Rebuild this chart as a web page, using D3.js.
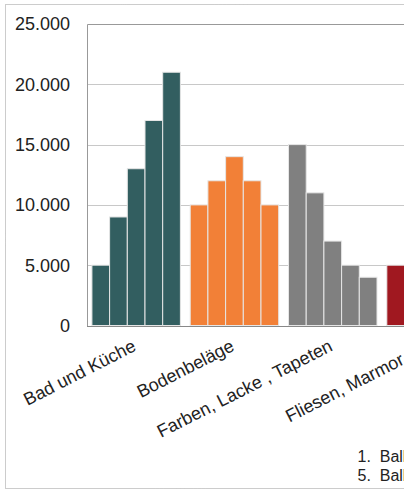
<!DOCTYPE html>
<html>
<head>
<meta charset="utf-8">
<title>Balken</title>
<script src="https://cdn.jsdelivr.net/npm/d3@7/dist/d3.min.js"></script>
<style>
  html, body { margin: 0; padding: 0; background: #fff; }
  text { font-family: "Liberation Sans", Arial, sans-serif; fill: #222; white-space: pre; }
</style>
</head>
<body>
<svg id="svg"></svg>
<script>
// categories and the five series (one value per category)
// (the last label runs past the right edge in the original; trailing spaces keep its place)
var categories = ["Bad und Küche", "Bodenbeläge", "Farben, Lacke , Tapeten", "Fliesen, Marmor      "];
var series = ["1. Balken", "2. Balken", "3. Balken", "4. Balken", "5. Balken"];
var values = [
  [5000, 9000, 13000, 17000, 21000],
  [10000, 12000, 14000, 12000, 10000],
  [15000, 11000, 7000, 5000, 4000],
  [5000, 6000, 7000, 8000, 9000]
];
var categoryColors = ["#325e60", "#f28037", "#808080", "#a01820"];
var yTicks = [0, 5000, 10000, 15000, 20000, 25000];
var legendItems = ["1.  Balken", "5.  Balken"];

var WIDTH = 404, HEIGHT = 491;
var LEFT = 87, TOP = 24, BOTTOM = 325.5;

var svg = d3.select('#svg').attr("width", WIDTH).attr("height", HEIGHT);

// outer dotted chart border
svg.append("rect")
   .attr("x", 5.5).attr("y", 4.5)
   .attr("width", WIDTH + 20).attr("height", 484)
   .attr("fill", "none").attr("stroke", "#999")
   .attr("stroke-dasharray", "1,1");

var de = d3.formatLocale({decimal: ",", thousands: ".", grouping: [3], currency: ["", " €"]});
var fmt = de.format(",d");

var y = d3.scaleLinear().domain([0, 25000]).range([BOTTOM, TOP]);
var x0 = d3.scaleBand().domain(categories)
           .range([LEFT, LEFT + 4 * 98.3])
           .paddingInner(0.1).paddingOuter(0.05);
var x1 = d3.scaleBand().domain(series).range([0, x0.bandwidth()]);

// gridlines
svg.selectAll("line.grid")
   .data(yTicks.filter(function(d){ return d > 0 && d < 25000; }))
   .enter().append("line")
   .attr("x1", LEFT).attr("x2", WIDTH)
   .attr("y1", function(d){ return Math.round(y(d)) + 0.5; })
   .attr("y2", function(d){ return Math.round(y(d)) + 0.5; })
   .attr("stroke", "#c8c8c8").attr("stroke-width", 1);

// plot frame: top and left, plus the zero line
svg.append("line").attr("x1", LEFT + 0.5).attr("x2", WIDTH)
   .attr("y1", Math.round(y(25000)) + 0.5).attr("y2", Math.round(y(25000)) + 0.5)
   .attr("stroke", "#999");
svg.append("line").attr("x1", LEFT + 0.5).attr("x2", LEFT + 0.5)
   .attr("y1", Math.round(y(25000)) + 0.5).attr("y2", Math.round(y(0)) + 0.5)
   .attr("stroke", "#999");
svg.append("line").attr("x1", LEFT).attr("x2", WIDTH)
   .attr("y1", Math.round(y(0)) + 0.5).attr("y2", Math.round(y(0)) + 0.5)
   .attr("stroke", "#888");

// y tick labels
svg.selectAll("text.ytick")
   .data(yTicks).enter().append("text")
   .attr("x", 70).attr("y", function(d){ return y(d); })
   .attr("dy", "0.35em")
   .attr("text-anchor", "end")
   .attr("font-size", "18px")
   .text(function(d){ return fmt(d); });

// bars
var groups = svg.selectAll("g.cat")
   .data(categories).enter().append("g")
   .attr("transform", function(d){ return "translate(" + x0(d) + ",0)"; });

groups.selectAll("rect")
   .data(function(d, i){
       return values[i].map(function(v, j){ return {s: series[j], v: v, c: categoryColors[i]}; });
   })
   .enter().append("rect")
   .attr("x", function(d){ return x1(d.s); })
   .attr("y", function(d){ return y(d.v); })
   .attr("width", x1.bandwidth())
   .attr("height", function(d){ return y(0) - y(d.v); })
   .attr("fill", function(d){ return d.c; })
   .attr("stroke", "#e6e6e6").attr("stroke-width", 1);

// category labels, rotated
svg.selectAll("text.cat")
   .data(categories).enter().append("text")
   .attr("transform", function(d){
       return "translate(" + (x0(d) + x0.bandwidth() / 2 + 1) + ",350) rotate(-27)";
   })
   .attr("text-anchor", "end")
   .attr("font-size", "18px")
   .text(function(d){ return d; });

// legend
svg.selectAll("text.leg")
   .data(legendItems).enter().append("text")
   .attr("x", 357.5).attr("y", function(d, i){ return 456 + i * 19; })
   .attr("dy", "0.35em")
   .attr("font-size", "16px")
   .text(function(d){ return d; });
</script>
</body>
</html>
